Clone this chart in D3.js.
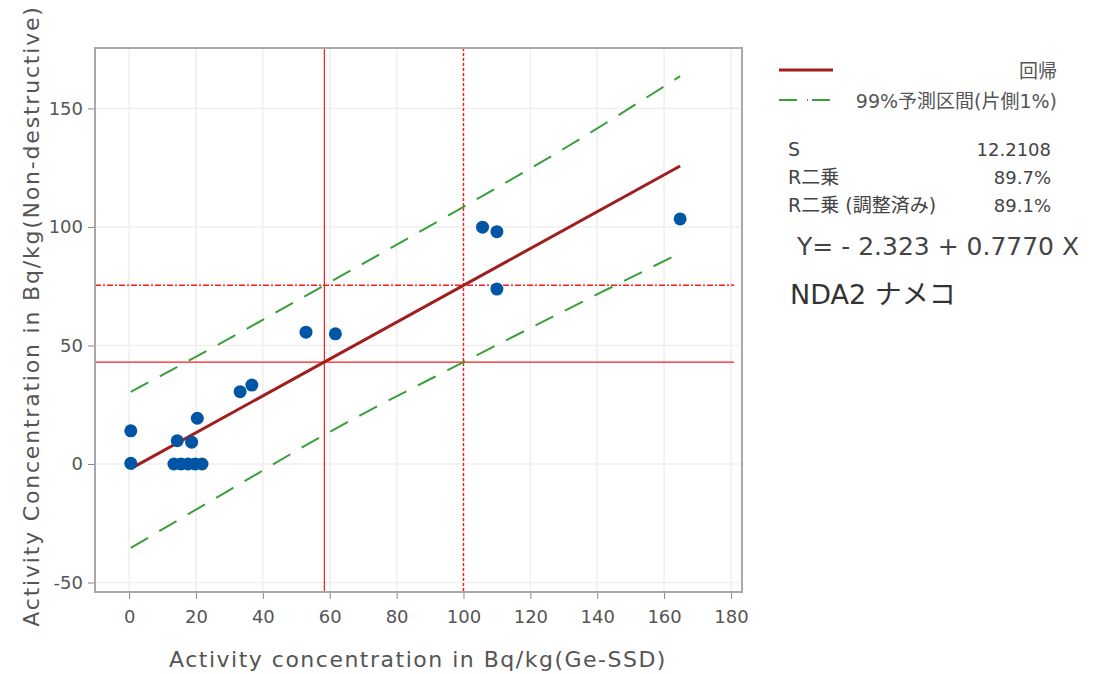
<!DOCTYPE html>
<html>
<head>
<meta charset="utf-8">
<script src="https://cdn.jsdelivr.net/npm/d3@7"></script>
<style>
  html, body { margin: 0; padding: 0; background: #fff; }
  svg { display: block; }
  text { font-family: "DejaVu Sans", "Noto Sans CJK JP", sans-serif; }
</style>
</head>
<body>
<svg id="chart" width="1094" height="674"></svg>
<script>
// ---- data ----
const pointsX = [0.5, 0.5, 13.4, 15.5, 17.6, 19.7, 21.8, 14.4, 18.7, 20.4, 33.2, 36.7, 52.9, 61.7, 105.7, 110, 110, 164.8];
const pointsY = [14, 0.3, 0, 0, 0, 0, 0, 9.8, 9.2, 19.3, 30.5, 33.3, 55.6, 54.9, 99.9, 98, 73.8, 103.4];

const regX = [0.5, 164.8];
const regY = [-1.935, 125.7];

const piX = [0.5, 30, 58.4, 100, 130, 164.8];
const piUpper = [30.4, 53, 75.4, 108.5, 133, 163.6];
const piLower = [-35.4, -11, 12.3, 43, 64.5, 89.0];

const refSolidX = 58.4, refSolidY = 43.0;
const refDotX = 100, refDotY = 75.4;

const xTicks = [0, 20, 40, 60, 80, 100, 120, 140, 160, 180];
const yTicks = [-50, 0, 50, 100, 150];

const legendLabels = ["回帰", "99%予測区間(片側1%)"];
const statNames = ["S", "R二乗", "R二乗 (調整済み)"];
const statValues = ["12.2108", "89.7%", "89.1%"];
const equationText = "Y= - 2.323 + 0.7770 X";
const titleText = "NDA2 ナメコ";
const xLabel = "Activity concentration in Bq/kg(Ge-SSD)";
const yLabel = "Activity Concentration in Bq/kg(Non-destructive)";

// ---- layout ----
const svg = d3.select("#chart");
const L = 95, R = 742, T = 48, B = 592;
const x = d3.scaleLinear().domain([-10.2, 183.3]).range([L, R]);
const y = d3.scaleLinear().domain([-54.0, 175.5]).range([B, T]);

const textCol = "#555";

// gridlines
const grid = svg.append("g");
grid.selectAll("line.gx").data(xTicks).join("line")
  .attr("x1", d => x(d)).attr("x2", d => x(d)).attr("y1", T).attr("y2", B)
  .attr("stroke", "#efefef").attr("stroke-width", 1.5);
grid.selectAll("line.gy").data(yTicks).join("line")
  .attr("y1", d => y(d)).attr("y2", d => y(d)).attr("x1", L).attr("x2", R)
  .attr("stroke", "#efefef").attr("stroke-width", 1.5);

// axes
const fmt = d => String(d);
const xAxis = d3.axisBottom(x).tickValues(xTicks).tickFormat(fmt).tickSize(7).tickSizeOuter(0);
const yAxis = d3.axisLeft(y).tickValues(yTicks).tickFormat(fmt).tickSize(7).tickPadding(5).tickSizeOuter(0);
const gx = svg.append("g").attr("transform", `translate(0,${B})`).call(xAxis);
const gy = svg.append("g").attr("transform", `translate(${L},0)`).call(yAxis);
[gx, gy].forEach(g => {
  g.select(".domain").remove();
  g.selectAll(".tick line").attr("stroke", "#888");
  g.selectAll(".tick text").attr("fill", textCol).style("font-size", "18px")
    .style("font-family", "'DejaVu Sans', sans-serif");
});
gx.selectAll(".tick text").attr("y", 31).attr("dy", 0);

// clip
svg.append("clipPath").attr("id", "clip").append("rect")
  .attr("x", L).attr("y", T).attr("width", R - L).attr("height", B - T);
const plot = svg.append("g").attr("clip-path", "url(#clip)");

// reference lines
const refRed = "#ff1a1a";
plot.append("line").attr("x1", x(refSolidX)).attr("x2", x(refSolidX)).attr("y1", T).attr("y2", B)
  .attr("stroke", refRed).attr("stroke-width", 1.2);
plot.append("line").attr("x1", L).attr("x2", R - 8).attr("y1", y(refSolidY)).attr("y2", y(refSolidY))
  .attr("stroke", refRed).attr("stroke-width", 1.2);
plot.append("line").attr("x1", x(refDotX)).attr("x2", x(refDotX)).attr("y1", T).attr("y2", B)
  .attr("stroke", refRed).attr("stroke-width", 1.4).attr("stroke-dasharray", "3,2");
plot.append("line").attr("x1", L).attr("x2", R - 8).attr("y1", y(refDotY)).attr("y2", y(refDotY))
  .attr("stroke", refRed).attr("stroke-width", 1.4).attr("stroke-dasharray", "6,2,2,2");

// prediction interval
const piLine = d3.line().curve(d3.curveMonotoneX);
const green = "#3a9e3a";
plot.append("path").attr("d", piLine(piX.map((d, i) => [x(d), y(piUpper[i])])))
  .attr("fill", "none").attr("stroke", green).attr("stroke-width", 2).attr("stroke-dasharray", "20,13");
plot.append("path").attr("d", piLine(piX.map((d, i) => [x(d), y(piLower[i])])))
  .attr("fill", "none").attr("stroke", green).attr("stroke-width", 2).attr("stroke-dasharray", "20,13");

// regression line
const darkRed = "#a01e1e";
plot.append("line").attr("x1", x(regX[0])).attr("y1", y(regY[0])).attr("x2", x(regX[1])).attr("y2", y(regY[1]))
  .attr("stroke", darkRed).attr("stroke-width", 3);

// points
plot.selectAll("circle").data(pointsX).join("circle")
  .attr("cx", d => x(d)).attr("cy", (d, i) => y(pointsY[i])).attr("r", 6.5)
  .attr("fill", "#0055a5");

// frame
svg.append("rect").attr("x", L).attr("y", T).attr("width", R - L).attr("height", B - T)
  .attr("fill", "none").attr("stroke", "#a8a8a8").attr("stroke-width", 2);

// axis titles
svg.append("text").attr("x", 418).attr("y", 667).attr("text-anchor", "middle")
  .attr("fill", textCol).style("font-size", "22px").style("letter-spacing", "1.5px").text(xLabel);
svg.append("text").attr("transform", "translate(39,316) rotate(-90)").attr("text-anchor", "middle")
  .attr("fill", textCol).style("font-size", "22px").style("letter-spacing", "1.8px").text(yLabel);

// legend
const lg = svg.append("g");
lg.append("line").attr("x1", 779).attr("x2", 833).attr("y1", 70).attr("y2", 70)
  .attr("stroke", darkRed).attr("stroke-width", 3);
lg.append("line").attr("x1", 779).attr("x2", 833).attr("y1", 100).attr("y2", 100)
  .attr("stroke", green).attr("stroke-width", 2).attr("stroke-dasharray", "18,10,1,4");
lg.selectAll("text.leg").data(legendLabels).join("text")
  .attr("x", 1057).attr("y", (d, i) => 78 + i * 30).attr("text-anchor", "end")
  .attr("fill", textCol).style("font-size", "19px").text(d => d);

// stats
statNames.forEach((s, i) => {
  svg.append("text").attr("x", 788).attr("y", 156 + i * 28).attr("fill", "#444")
    .style("font-size", "19px").text(s);
  svg.append("text").attr("x", 1051).attr("y", 156 + i * 28).attr("text-anchor", "end").attr("fill", "#444")
    .style("font-size", "18px").text(statValues[i]);
});

svg.append("text").attr("x", 797).attr("y", 255).attr("fill", "#444")
  .style("font-size", "25px").text(equationText);
svg.append("text").attr("x", 790).attr("y", 304).attr("fill", "#333")
  .style("font-size", "27px").text(titleText);
</script>
</body>
</html>
